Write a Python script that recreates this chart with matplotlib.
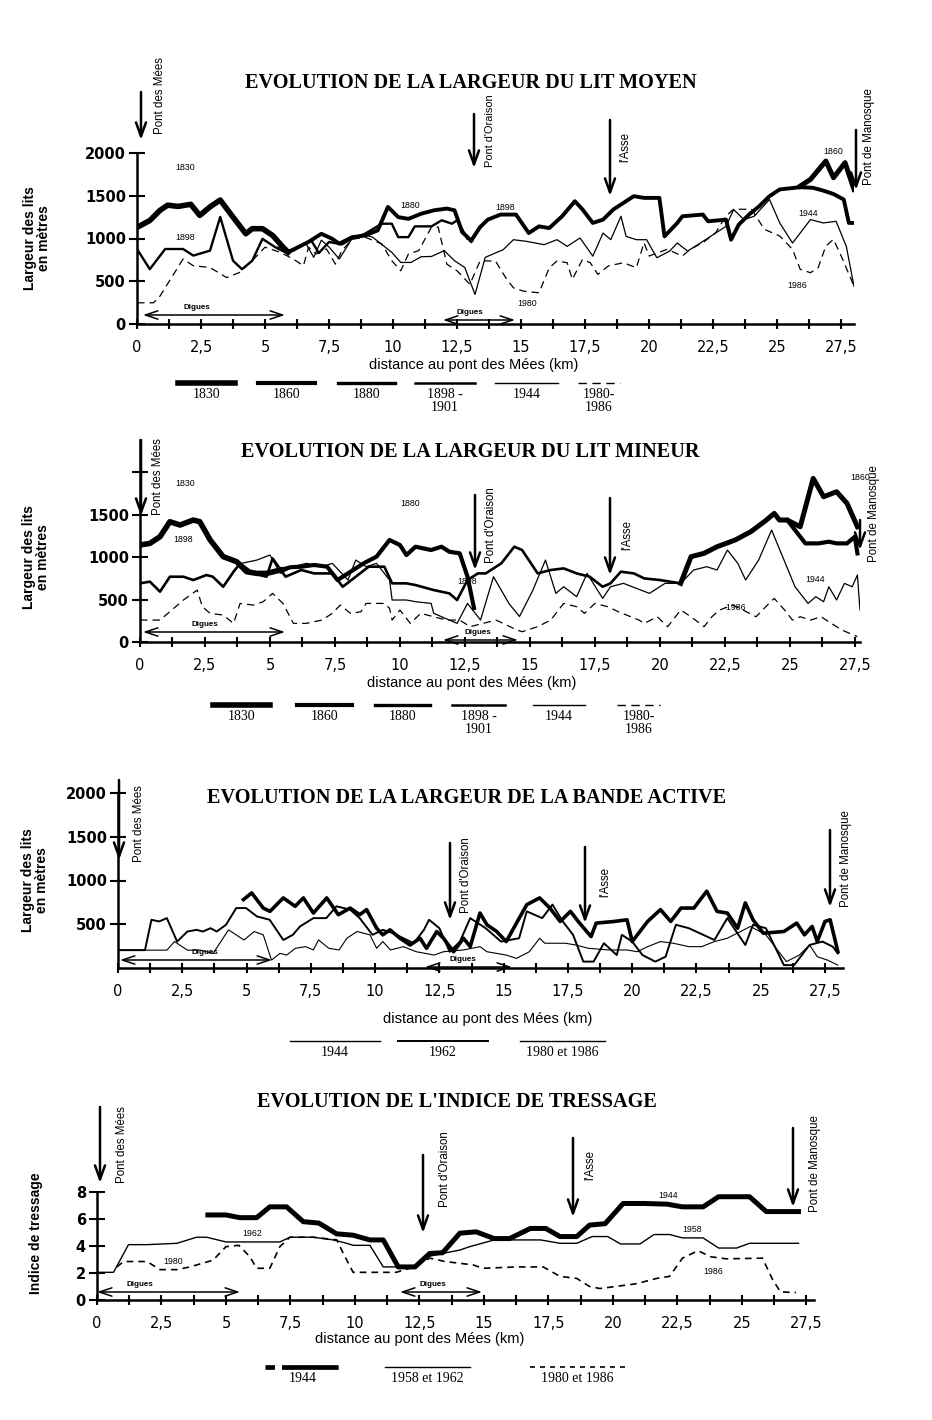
import matplotlib
matplotlib.use("Agg")
import matplotlib.pyplot as plt
from matplotlib.ticker import FixedLocator, FuncFormatter

# ---------------- DATA (km from Pont des Mées, widths in m) ----------------
# Panel 1: lit moyen
moy_km_1830 = [0, 0.5, 0.9, 1.2, 1.6, 2.1, 2.45, 2.85, 3.25, 3.75, 4.25, 4.5, 4.9, 5.3, 5.7, 5.9]
moy_1830 = [1130, 1210, 1330, 1390, 1375, 1400, 1270, 1370, 1450, 1250, 1055, 1115, 1115, 1035, 900, 840]
moy_km_1880 = [5.9, 6.3, 6.7, 7.2, 7.6, 7.9, 8.4, 8.9, 9.4, 9.8, 10.2, 10.6, 11.1, 11.6, 12.1, 12.4, 12.7, 13.05]
moy_1880 = [840, 900, 960, 1055, 1000, 940, 1015, 1035, 1095, 1370, 1250, 1230, 1290, 1330, 1350, 1330, 1075, 975]
moy_km_1898 = [13.05, 13.4, 13.7, 14.2, 14.8, 15.3, 15.7, 16.1, 16.6, 17.1, 17.4, 17.8, 18.2, 18.6, 19.0, 19.4,
               19.8, 20.4, 20.6, 21.1, 21.3, 22.1, 22.3, 23.0, 23.2, 23.5, 23.9, 24.3, 24.7, 25.1, 25.9, 26.4,
               26.8, 27.2, 27.6, 27.8, 28.0]
moy_1898 = [975, 1134, 1221, 1280, 1280, 1064, 1142, 1122, 1260, 1436, 1339, 1182, 1221, 1339, 1417, 1495,
            1475, 1475, 1025, 1182, 1260, 1280, 1201, 1221, 986, 1162, 1280, 1378, 1495, 1574, 1600, 1593,
            1560, 1520, 1456, 1182, 1182]
moy_km_1860 = [25.9, 26.3, 26.9, 27.2, 27.65, 28.0]
moy_1860 = [1613, 1691, 1906, 1711, 1887, 1574]
moy_km_1901 = [0, 0.5, 1.1, 1.8, 2.2, 2.85, 3.25, 3.75, 4.1, 4.5, 4.9, 5.4, 5.8, 6.3, 6.8, 7.1, 7.5, 8.0,
               8.4, 8.9, 9.56, 9.95, 10.2, 10.6, 10.85, 11.5, 11.9, 12.3, 12.5, 12.9]
moy_1901 = [877, 641, 877, 877, 800, 858, 1252, 740, 641, 740, 996, 898, 838, 900, 980, 830, 960, 930,
            1000, 1055, 1173, 1173, 1016, 1016, 1142, 1142, 1213, 1173, 1213, 1000]
moy_km_1944 = [5.5, 6.1, 6.6, 6.9, 7.2, 7.5, 7.9, 8.4, 8.9, 9.2, 9.95, 10.3, 10.7, 11.1, 11.5, 12.0, 12.4,
               12.8, 13.2, 13.6, 14.3, 14.7, 15.2, 15.9, 16.4, 16.8, 17.3, 17.8, 18.2, 18.5, 18.9, 19.1,
               19.5, 19.9, 20.3, 20.8, 21.1, 21.5, 22.0, 22.6, 23.0, 23.3, 23.7, 24.1, 24.7, 25.1, 25.6,
               26.3, 26.8, 27.3, 27.7, 28.0]
moy_1944 = [900, 850, 940, 780, 980, 900, 760, 1000, 1040, 1016, 838, 720, 720, 787, 790, 858, 740,
            661, 346, 780, 869, 986, 967, 928, 986, 908, 1006, 794, 1064, 986, 1260, 1025,
            986, 986, 775, 853, 947, 853, 947, 1064, 1142, 1339, 1221, 1260, 1456, 1182, 947,
            1221, 1182, 1201, 908, 440]
moy_km_1980 = [0, 0.65, 0.9, 1.8, 2.2, 2.85, 3.5, 4.0, 4.5, 5.0, 5.6, 6.1, 6.5, 6.7, 7.0, 7.4, 7.75, 8.0,
               8.4, 8.9, 9.56, 9.95, 10.3, 10.6, 11.0, 11.5, 11.76, 12.1, 12.5, 13.0, 13.4, 14.0, 14.4,
               14.7, 15.1, 15.7, 16.1, 16.4, 16.8, 17.0, 17.4, 17.7, 18.0, 18.4, 19.0, 19.5, 19.8, 20.0,
               20.7, 21.3, 21.6, 22.1, 22.6, 23.0, 23.3, 24.0, 24.5, 25.1, 25.6, 25.9, 26.3, 26.6, 26.9,
               27.2, 27.5, 28.0]
moy_1980 = [248, 248, 327, 760, 681, 661, 543, 602, 740, 898, 838, 760, 681, 898, 819, 878, 700, 858,
            990, 1016, 937, 740, 622, 819, 858, 1134, 1134, 700, 622, 464, 740, 736, 541,
            423, 384, 365, 658, 736, 717, 521, 756, 717, 580, 678, 717, 658, 951, 795,
            873, 795, 873, 951, 1069, 1264, 1342, 1342, 1107, 1029, 873, 639, 600, 658, 912,
            990, 795, 443]

# Panel 2: lit mineur
min_km_1830 = [0, 0.38, 0.77, 1.15, 1.54, 2.05, 2.3, 2.7, 3.2, 3.72, 4.1, 4.5, 4.87, 5.4]
min_1830 = [1141, 1160, 1239, 1415, 1376, 1435, 1415, 1200, 1004, 945, 827, 807, 807, 847]
min_km_1880 = [5.4, 5.8, 6.2, 6.7, 7.2, 7.6, 8.0, 8.6, 9.1, 9.6, 10.0, 10.25, 10.6, 11.2, 11.6, 11.9,
               12.3, 12.6, 12.85]
min_1880 = [847, 880, 886, 906, 886, 729, 807, 925, 1004, 1200, 1141, 1023, 1121, 1082, 1121, 1062,
            1043, 768, 400]
min_km_1898 = [0, 0.38, 0.77, 1.15, 1.67, 2.05, 2.56, 2.8, 3.2, 3.6, 3.85, 4.36, 4.87, 5.1, 5.6, 6.2,
               6.7, 7.4, 7.8, 8.3, 8.8, 9.4, 9.7, 10.25, 10.6, 11.3, 11.9, 12.2, 12.6, 13.0, 13.3, 13.9,
               14.4, 14.7, 15.3, 15.8, 16.3, 16.8, 17.3, 17.8, 18.1, 18.5, 19.0, 19.4, 20.0, 20.8, 21.2]
min_1898 = [690, 710, 592, 768, 768, 729, 788, 768, 650, 827, 925, 807, 768, 984, 768, 847,
            807, 807, 650, 768, 886, 886, 690, 690, 670, 611, 572, 494, 729, 807, 807, 925,
            1121, 1082, 807, 847, 866, 807, 768, 650, 690, 827, 807, 748, 729, 690, 1004]
min_km_1860 = [20.8, 21.2, 21.7, 22.2, 22.9, 23.5, 24.1, 24.4, 24.6, 24.9, 25.4, 25.9, 26.3, 26.8, 27.2, 27.6]
min_1860 = [690, 1004, 1043, 1121, 1200, 1298, 1435, 1513, 1435, 1435, 1356, 1925, 1709, 1768, 1631, 1356]
min_km_end = [24.9, 25.6, 26.1, 26.5, 26.8, 27.2, 27.5, 27.6]
min_end = [1435, 1160, 1160, 1180, 1160, 1160, 1239, 1043]
min_km_1944 = [3.9, 4.5, 5.0, 5.4, 5.9, 6.4, 7.0, 7.4, 8.0, 8.3, 8.7, 9.1, 9.6, 9.7, 10.25, 10.6, 11.2,
               11.3, 12.2, 12.6, 13.1, 13.6, 14.2, 14.6, 15.1, 15.6, 16.0, 16.3, 16.8, 17.2, 17.8, 18.1,
               18.6, 19.6, 20.2, 20.8, 21.3, 21.8, 22.2, 22.6, 23.0, 23.3, 23.8, 24.3, 25.2, 25.7, 26.0,
               26.3, 26.5, 26.8, 27.1, 27.4, 27.6, 27.7]
min_1944 = [925, 964, 1023, 807, 886, 925, 886, 925, 729, 964, 886, 925, 729, 494, 494, 474, 454,
            337, 219, 454, 258, 768, 450, 300, 600, 964, 572, 650, 533, 807, 513, 650,
            690, 572, 690, 690, 847, 886, 847, 1082, 925, 729, 964, 1317, 650, 454, 533,
            474, 650, 494, 690, 650, 788, 376]
min_km_1980 = [0, 0.77, 1.67, 2.2, 2.4, 2.7, 3.2, 3.6, 3.85, 4.36, 4.74, 5.1, 5.5, 5.9, 6.4, 7.0, 7.4,
               7.7, 8.1, 8.5, 8.7, 9.4, 9.6, 9.7, 10.0, 10.4, 10.8, 11.3, 11.8, 12.3, 12.7, 13.2, 13.7,
               14.5, 14.7, 15.3, 15.8, 16.3, 16.8, 17.1, 17.5, 18.0, 18.4, 19.2, 19.4, 19.9, 20.3, 20.8,
               21.2, 21.7, 22.0, 22.3, 22.8, 23.2, 23.7, 24.2, 24.4, 24.8, 25.1, 25.4, 25.8, 26.2, 26.6,
               27.0, 27.6]
min_1980 = [258, 258, 494, 611, 415, 337, 317, 219, 454, 434, 474, 572, 454, 219, 219, 258, 337,
            434, 337, 356, 454, 454, 396, 258, 376, 219, 337, 297, 258, 258, 180, 219, 258,
            141, 121, 180, 258, 454, 415, 337, 454, 415, 356, 258, 219, 297, 180, 376,
            297, 180, 297, 376, 434, 376, 297, 454, 513, 376, 258, 297, 258, 297, 219,
            141, 63]

# Panel 3: bande active
act_km_1986 = [4.88, 5.2, 5.65, 5.91, 6.43, 6.89, 7.21, 7.6, 8.12, 8.57, 9.03, 9.4, 9.67, 10.06, 10.3,
               10.58, 10.97, 11.36, 11.75, 12.0, 12.4, 12.66, 13.05, 13.44, 13.7, 14.08, 14.35, 14.73,
               15.1, 15.9, 16.4, 16.8, 17.2, 17.6, 17.9, 18.4, 18.6, 19.3, 19.8, 20.0, 20.6, 21.1, 21.5,
               21.9, 22.4, 22.9, 23.3, 23.7, 24.1, 24.4, 24.7, 25.1, 25.9, 26.4, 26.7, 27.0, 27.2, 27.5,
               27.7, 28.0]
act_1986 = [782, 858, 685, 647, 801, 705, 801, 628, 801, 609, 685, 609, 667, 455, 379,
            436, 340, 263, 340, 225, 417, 340, 186, 340, 244, 628, 494, 417,
            302, 724, 801, 685, 532, 647, 532, 359, 513, 532, 551, 302, 532, 667, 532,
            685, 685, 878, 647, 628, 455, 744, 551, 398, 417, 513, 379, 475, 302, 532,
            551, 186]
act_km_1962 = [0, 1.05, 1.3, 1.6, 1.9, 2.3, 2.7, 3.06, 3.3, 3.6, 3.84, 4.2, 4.6, 4.98, 5.4, 5.9, 6.43,
               6.8, 7.08, 7.6, 8.1, 8.5, 9.03, 9.4, 9.9, 10.3, 10.7, 11.1, 11.5, 11.9, 12.1, 12.5, 12.9,
               13.3, 13.7, 14.3, 14.9, 15.6, 15.9, 16.5, 16.9, 17.3, 17.7, 18.1, 18.5, 18.9, 19.4, 19.6,
               20.0, 20.4, 20.9, 21.3, 21.7, 22.2, 23.2, 23.7, 24.4, 24.7, 25.2, 25.9, 26.3, 26.9, 27.4,
               27.8, 28.0]
act_1962 = [204, 204, 551, 532, 570, 302, 417, 436, 417, 455, 417, 494, 685, 685, 590, 551, 320,
            379, 475, 570, 570, 705, 667, 570, 379, 436, 398, 340, 283, 436, 551, 455, 186,
            302, 570, 455, 302, 340, 647, 570, 724, 532, 379, 73, 73, 283, 148, 379,
            302, 148, 73, 129, 494, 455, 320, 570, 263, 494, 455, 33, 33, 263, 302,
            244, 167]
act_km_1944 = [0, 1.9, 2.2, 2.7, 3.2, 3.7, 4.3, 4.9, 5.3, 5.65, 5.97, 6.3, 6.56, 6.9, 7.3, 7.6, 7.8, 8.2,
               8.6, 8.9, 9.3, 9.8, 10.06, 10.3, 10.6, 11.1, 11.6, 12.3, 12.66, 13.44, 14.08, 14.35, 15.1,
               15.5, 16.0, 16.4, 16.6, 17.4, 17.8, 18.3, 19.1, 19.8, 20.2, 20.6, 21.1, 21.6, 22.2, 22.7,
               23.2, 23.7, 24.6, 25.2, 25.6, 26.0, 26.5, 26.9, 27.2, 27.6, 28.0]
act_1944 = [204, 204, 302, 204, 204, 167, 436, 320, 417, 379, 90, 167, 148, 225, 244, 206, 321, 225,
            206, 340, 417, 379, 225, 302, 206, 244, 186, 148, 186, 206, 244, 186, 148,
            110, 186, 340, 283, 283, 263, 225, 206, 206, 186, 244, 302, 283, 244, 244,
            302, 340, 475, 379, 225, 73, 148, 263, 129, 90, 33]

# Panel 4: indice de tressage
tr_km_1944 = [4.3, 5.0, 5.54, 6.19, 6.7, 7.35, 8.0, 8.6, 9.29, 9.93, 10.58, 11.1, 11.68, 12.33, 12.9, 13.4,
              14.07, 14.7, 15.4, 16.0, 16.8, 17.4, 17.95, 18.6, 19.1, 19.7, 20.4, 21.2, 22.1, 22.7, 23.5,
              24.1, 25.3, 25.95, 26.6, 27.2]
tr_1944 = [6.3, 6.3, 6.1, 6.1, 6.9, 6.9, 5.8, 5.7, 4.9, 4.8, 4.45, 4.45, 2.45, 2.45, 3.45, 3.5,
           4.95, 5.05, 4.55, 4.55, 5.3, 5.3, 4.7, 4.7, 5.55, 5.65, 7.15, 7.15, 7.1, 6.9, 6.9,
           7.65, 7.65, 6.55, 6.55, 6.55]
tr_km_1962 = [0, 0.64, 1.22, 1.94, 3.1, 3.86, 4.25, 5.0, 5.8, 7.09, 7.48, 8.38, 9.16, 9.68, 9.93, 10.58,
              11.1, 11.74, 12.26, 12.8, 13.4, 14.07, 14.45, 15.4, 17.2, 17.95, 18.6, 19.2, 19.8, 20.3,
              21.05, 21.6, 22.2, 22.7, 23.5, 24.1, 24.8, 25.3, 27.2]
tr_1962 = [2.05, 2.05, 4.1, 4.1, 4.2, 4.65, 4.65, 4.3, 4.3, 4.3, 4.65, 4.65, 4.45, 4.2, 4.05, 4.05,
           2.45, 2.45, 2.45, 3.2, 3.45, 3.7, 3.95, 4.45, 4.45, 4.2, 4.2, 4.7, 4.7, 4.15,
           4.15, 4.85, 4.85, 4.6, 4.6, 3.85, 3.85, 4.2, 4.2]
tr_km_1980 = [0.77, 1.03, 1.94, 2.44, 3.1, 3.6, 4.5, 5.0, 5.5, 5.93, 6.19, 6.7, 7.09, 7.48, 8.38, 9.3,
              9.55, 9.93, 11.6, 12.3, 12.9, 13.5, 14.58, 14.97, 16.3, 17.3, 17.95, 18.6, 19.1, 19.5,
              20.1, 20.9, 21.7, 22.2, 22.7, 23.3, 23.8, 24.4, 25.8, 26.2, 26.5, 27.1]
tr_1980 = [2.45, 2.85, 2.85, 2.25, 2.25, 2.45, 2.95, 3.95, 4.05, 3.2, 2.35, 2.35, 3.95, 4.65, 4.65, 4.45,
           3.45, 2.05, 2.05, 2.45, 3.1, 2.85, 2.6, 2.35, 2.45, 2.45, 1.75, 1.6, 1.0, 0.85,
           1.0, 1.2, 1.6, 1.75, 3.1, 3.65, 3.2, 3.05, 3.1, 1.5, 0.6, 0.55]

# ---------------- FIGURE ----------------
W, H = 932, 1420
fig = plt.figure(figsize=(W / 100, H / 100), dpi=100)
fig.patch.set_facecolor("white")

SANS = "DejaVu Sans"
SERIF = "Liberation Serif"
DASH = (0, (6, 4))


def px_axes(x0, x1, ytop, ybot):
    return fig.add_axes([x0 / W, 1 - ybot / H, (x1 - x0) / W, (ybot - ytop) / H])


def style_axes(ax, xmax, ymax, yticks, ylabels, ylab):
    ax.set_xlim(0, xmax)
    ax.set_ylim(0, ymax)
    ax.patch.set_alpha(0)
    for s in ["top", "right"]:
        ax.spines[s].set_visible(False)
    for s in ["left", "bottom"]:
        ax.spines[s].set_linewidth(1.8)
    ax.xaxis.set_major_locator(FixedLocator([0, 2.5, 5, 7.5, 10, 12.5, 15, 17.5, 20, 22.5, 25, 27.5]))
    ax.xaxis.set_minor_locator(FixedLocator([1.25 + 2.5 * i for i in range(11)]))
    ax.xaxis.set_major_formatter(FuncFormatter(lambda v, p: ("%g" % v).replace(".", ",")))
    ax.tick_params(axis="x", which="both", direction="inout", length=7, width=1.5,
                   labelsize=10.5, pad=8)
    ax.set_yticks(yticks)
    ax.set_yticklabels(ylabels, fontweight="bold")
    ax.tick_params(axis="y", direction="inout", length=12, width=1.5, labelsize=10.5, pad=2)
    for t in ax.get_xticklabels() + ax.get_yticklabels():
        t.set_family(SANS)
    ax.set_ylabel(ylab, fontsize=10, fontweight="bold", family="Liberation Sans", labelpad=4,
                  linespacing=1.0)
    ax.set_xlabel("distance au pont des Mées (km)", fontsize=10.5, family="Liberation Sans",
                  labelpad=4)


lab_w = "Largeur des lits\nen mètres"

# ---- Panel 1
ax1 = px_axes(137, 854, 153, 324)
ax1.plot(moy_km_1830, moy_1830, color="k", lw=4.0, solid_joinstyle="round")
ax1.plot(moy_km_1880, moy_1880, color="k", lw=2.8)
ax1.plot(moy_km_1898, moy_1898, color="k", lw=2.8)
ax1.plot(moy_km_1860, moy_1860, color="k", lw=3.6)
ax1.plot(moy_km_1901, moy_1901, color="k", lw=1.7)
ax1.plot(moy_km_1944, moy_1944, color="k", lw=0.9)
ax1.plot(moy_km_1980, moy_1980, color="k", lw=0.9, ls=DASH)
style_axes(ax1, 28.0, 2000, [0, 500, 1000, 1500, 2000], ["0", "500", "1000", "1500", "2000"], lab_w)
ax1.xaxis.set_label_coords(0.47, -0.2)
ax1.yaxis.set_label_coords(-0.12, 0.5)

# ---- Panel 2
ax2 = px_axes(140, 860, 472, 642)
ax2.plot(min_km_1830, min_1830, color="k", lw=4.0)
ax2.plot(min_km_1880, min_1880, color="k", lw=3.0)
ax2.plot(min_km_1898, min_1898, color="k", lw=1.9)
ax2.plot(min_km_1860, min_1860, color="k", lw=3.6)
ax2.plot(min_km_end, min_end, color="k", lw=3.0)
ax2.plot(min_km_1944, min_1944, color="k", lw=0.9)
ax2.plot(min_km_1980, min_1980, color="k", lw=0.9, ls=DASH)
style_axes(ax2, 27.7, 2000, [0, 500, 1000, 1500, 2000], ["0", "500", "1000", "1500", ""], lab_w)
ax2.spines["left"].set_bounds(0, 2380)
ax2.xaxis.set_label_coords(0.46, -0.2)
ax2.yaxis.set_label_coords(-0.125, 0.5)

# ---- Panel 3
ax3 = px_axes(118, 843, 793, 968)
ax3.plot(act_km_1986, act_1986, color="k", lw=2.6)
ax3.plot(act_km_1962, act_1962, color="k", lw=1.4)
ax3.plot(act_km_1944, act_1944, color="k", lw=0.8)
style_axes(ax3, 28.2, 2000, [500, 1000, 1500, 2000], ["500", "1000", "1500", "2000"], lab_w)
ax3.xaxis.set_label_coords(0.51, -0.25)
ax3.yaxis.set_label_coords(-0.095, 0.5)

# ---- Panel 4
ax4 = px_axes(97, 814, 1192, 1300)
ax4.plot(tr_km_1944, tr_1944, color="k", lw=3.6)
ax4.plot(tr_km_1962, tr_1962, color="k", lw=1.0)
ax4.plot(tr_km_1980, tr_1980, color="k", lw=1.2, ls=(0, (4, 3)))
style_axes(ax4, 27.8, 8, [0, 2, 4, 6, 8], ["0", "2", "4", "6", "8"], "Indice de tressage")
ax4.xaxis.set_label_coords(0.45, -0.3)
ax4.yaxis.set_label_coords(-0.075, 0.62)

# ---------------- overlay (titles, arrows, legends) in pixel space ----------------
ov = fig.add_axes([0, 0, 1, 1], zorder=5)
ov.set_xlim(0, W)
ov.set_ylim(H, 0)
ov.axis("off")
ov.patch.set_alpha(0)

titles = [
    ("EVOLUTION DE LA LARGEUR DU LIT MOYEN", 471, 83),
    ("EVOLUTION DE LA LARGEUR DU LIT MINEUR", 470, 452),
    ("EVOLUTION DE LA LARGEUR DE LA BANDE ACTIVE", 467, 798),
    ("EVOLUTION DE L'INDICE DE TRESSAGE", 457, 1102),
]
for txt, x, y in titles:
    ov.text(x, y, txt, ha="center", va="center", family=SERIF, fontweight="bold", fontsize=14.6)


def site(x, ytop, ytip, label, lx, lbot, fs=8.3):
    ov.annotate("", xy=(x, ytip), xytext=(x, ytop),
                arrowprops=dict(arrowstyle="->,head_length=1.0,head_width=0.36", lw=1.8,
                                color="k", shrinkA=0, shrinkB=0))
    ov.text(lx, lbot, label, rotation=90, ha="center", va="bottom", fontsize=fs,
            family="Liberation Sans")


def digues(x0, x1, y, lx):
    ov.annotate("", xy=(x1, y), xytext=(x0, y),
                arrowprops=dict(arrowstyle="<->,head_length=0.9,head_width=0.3", lw=1.1,
                                color="k", shrinkA=0, shrinkB=0))
    ov.text(lx, y - 4, "Digues", ha="center", va="bottom", fontsize=5.8, fontweight="bold",
            family="Liberation Sans")


# panel 1 sites
site(141, 92, 140, "Pont des Mées", 160, 134)
site(474, 114, 168, "Pont d'Oraison", 490, 167, fs=7.9)
site(610, 120, 196, "l'Asse", 625, 162)
site(856, 130, 190, "Pont de Manosque", 869, 185)
digues(143, 285, 315, 197)
digues(443, 515, 320, 470)
# panel 2 sites
site(141, 440, 516, "Pont des Mées", 158, 515)
site(475, 495, 570, "Pont d'Oraison", 491, 563)
site(610, 498, 575, "l'Asse", 627, 550)
site(860, 520, 550, "Pont de Manosque", 874, 562)
digues(143, 285, 632, 205)
digues(443, 518, 640, 478)
# panel 3 sites
site(119, 780, 860, "Pont des Mées", 139, 862)
site(450, 843, 920, "Pont d'Oraison", 466, 913)
site(585, 847, 923, "l'Asse", 605, 897)
site(830, 830, 907, "Pont de Manosque", 846, 907)
digues(120, 272, 960, 205)
digues(425, 512, 967, 463)
# panel 4 sites
site(100, 1107, 1183, "Pont des Mées", 122, 1183)
site(423, 1155, 1233, "Pont d'Oraison", 445, 1207)
site(573, 1138, 1217, "l'Asse", 590, 1180)
site(793, 1128, 1207, "Pont de Manosque", 815, 1212)
digues(97, 240, 1292, 140)
digues(400, 482, 1292, 433)

# year labels inside panels
years = [
    ("1830", 185, 167), ("1898", 185, 238), ("1880", 410, 205), ("1898", 505, 207),
    ("1980", 527, 303), ("1860", 833, 152), ("1944", 808, 214), ("1986", 797, 285),
    ("1830", 185, 484), ("1898", 183, 539), ("1880", 410, 504), ("1898", 467, 582),
    ("1860", 860, 478), ("1944", 815, 580), ("-1986", 735, 607),
    ("1962", 252, 1234), ("1980", 173, 1262), ("1944", 668, 1195), ("1958", 692, 1229),
    ("1986", 713, 1271),
]
for t, x, y in years:
    ov.text(x, y, t, ha="center", va="center", fontsize=6.3, family="Liberation Sans")

# legends
leg = [
    # panel 1
    (178, 235, 383, 4.0, "-", "1830"), (258, 315, 383, 3.0, "-", "1860"),
    (338, 395, 383, 2.4, "-", "1880"), (415, 475, 383, 1.8, "-", "1898 -\n1901"),
    (495, 558, 383, 1.0, "-", "1944"), (578, 620, 383, 1.0, DASH, "1980-\n1986"),
    # panel 2
    (213, 270, 705, 4.0, "-", "1830"), (297, 352, 705, 3.0, "-", "1860"),
    (375, 430, 705, 2.4, "-", "1880"), (452, 505, 705, 1.8, "-", "1898 -\n1901"),
    (533, 585, 705, 1.0, "-", "1944"), (617, 660, 705, 1.0, DASH, "1980-\n1986"),
    # panel 3
    (290, 380, 1041, 1.0, "-", "1944"), (398, 488, 1041, 1.4, "-", "1962"),
    (520, 605, 1041, 1.0, "-", "1980 et 1986"),
    # panel 4
    (265, 340, 1367, 3.4, (0, (2, 1.5, 10, 0)), "1944"), (385, 470, 1367, 1.0, "-", "1958 et 1962"),
    (530, 625, 1367, 1.2, (0, (3, 3)), "1980 et 1986"),
]
for x0, x1, y, lw, ls, t in leg:
    ov.plot([x0, x1], [y, y], color="k", lw=lw, ls=ls)
    ov.text((x0 + x1) / 2, y + 5, t, ha="center", va="top", family=SERIF, fontsize=10,
            linespacing=1.0)

fig.savefig("out.png", dpi=100)
